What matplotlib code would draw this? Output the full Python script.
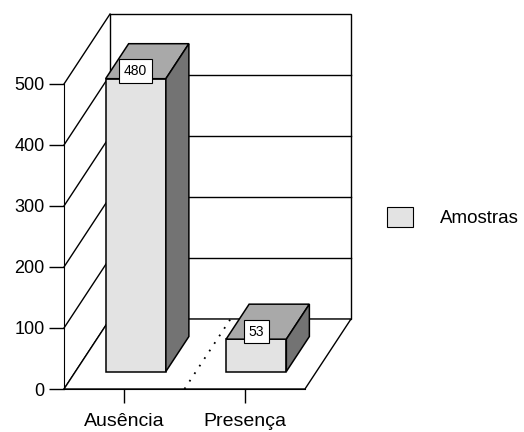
import matplotlib
matplotlib.use('Agg')
import matplotlib.pyplot as plt
from matplotlib.patches import Patch

plt.rcParams['font.family'] = ['Liberation Sans', 'DejaVu Sans']

# Data
categories = ['Ausência', 'Presença']
values = [480, 53]
series_name = 'Amostras'
yticks = [0, 100, 200, 300, 400, 500]

# 3D look: oblique depth offset in data units
DX = 0.382
DY = 114.75
D0, D1 = 0.25, 0.75   # bar depth start / end (fraction of full depth)
W = 0.5               # bar width
ymax = yticks[-1]
ncat = len(categories)

front_col = '#E3E3E3'
top_col = '#A9A9A9'
side_col = '#737373'

fig = plt.figure(figsize=(5.24, 4.32), dpi=100)
ax = fig.add_axes([64 / 524, 43 / 432, 287 / 524, 375 / 432])
ax.set_xlim(0, ncat + DX)
ax.set_ylim(0, ymax + DY)

# back wall
ax.fill([DX, ncat + DX, ncat + DX, DX], [DY, DY, ymax + DY, ymax + DY],
        facecolor='white', edgecolor='black', lw=1, zorder=1, clip_on=False)
for v in yticks[1:-1]:
    ax.plot([DX, ncat + DX], [v + DY, v + DY], color='black', lw=1, zorder=2,
            clip_on=False)

# side wall diagonals
for v in yticks:
    ax.plot([0, DX], [v, v + DY], color='black', lw=1, zorder=2, clip_on=False)

# floor
ax.fill([0, ncat, ncat + DX, DX], [0, 0, DY, DY],
        facecolor='white', edgecolor='black', lw=1, zorder=2, clip_on=False)
# dotted category divider on the floor
for i in range(1, ncat):
    ax.plot([i, i + DX], [0, DY], color='black', lw=1.3, ls=(0, (1, 4)), zorder=3)

# bars
for i, v in enumerate(values):
    x0 = i + 0.5 - W / 2 + D0 * DX
    x1 = x0 + W
    y0 = D0 * DY
    ddx = (D1 - D0) * DX
    ddy = (D1 - D0) * DY
    ax.fill([x0, x1, x1, x0], [y0, y0, y0 + v, y0 + v],
            facecolor=front_col, edgecolor='black', lw=1.1, zorder=4)
    ax.fill([x0, x1, x1 + ddx, x0 + ddx], [y0 + v, y0 + v, y0 + v + ddy, y0 + v + ddy],
            facecolor=top_col, edgecolor='black', lw=1.1, zorder=4)
    ax.fill([x1, x1 + ddx, x1 + ddx, x1], [y0, y0 + ddy, y0 + v + ddy, y0 + v],
            facecolor=side_col, edgecolor='black', lw=1.1, zorder=4)
    ax.text((x0 + x1) / 2, y0 + v + 1, str(v), ha='center', va='bottom', fontsize=10,
            zorder=5, bbox=dict(boxstyle='square,pad=0.35', facecolor='white',
                                edgecolor='black', lw=0.8))

# axes
for s in ['top', 'right']:
    ax.spines[s].set_visible(False)
ax.spines['left'].set_bounds(0, ymax)
ax.spines['bottom'].set_bounds(0, ncat)
ax.set_yticks(yticks)
ax.set_yticklabels([str(t) for t in yticks], fontsize=13)
ax.set_xticks([i + 0.5 for i in range(ncat)])
ax.set_xticklabels(categories, fontsize=14)
ax.tick_params(axis='y', direction='out', length=11, width=1, pad=3)
ax.tick_params(axis='x', direction='out', length=10, width=1, pad=7)
ax.patch.set_visible(False)

handle = Patch(facecolor=front_col, edgecolor='black', lw=0.8)
ax.legend(handles=[handle], labels=[series_name], loc='center left',
          bbox_to_anchor=(387 / 524, 1 - 217 / 432), bbox_transform=fig.transFigure,
          frameon=False, fontsize=13.5, handlelength=1.4, handleheight=1.3,
          handletextpad=1.4, borderpad=0, borderaxespad=0)

fig.savefig('out.png', dpi=100)
